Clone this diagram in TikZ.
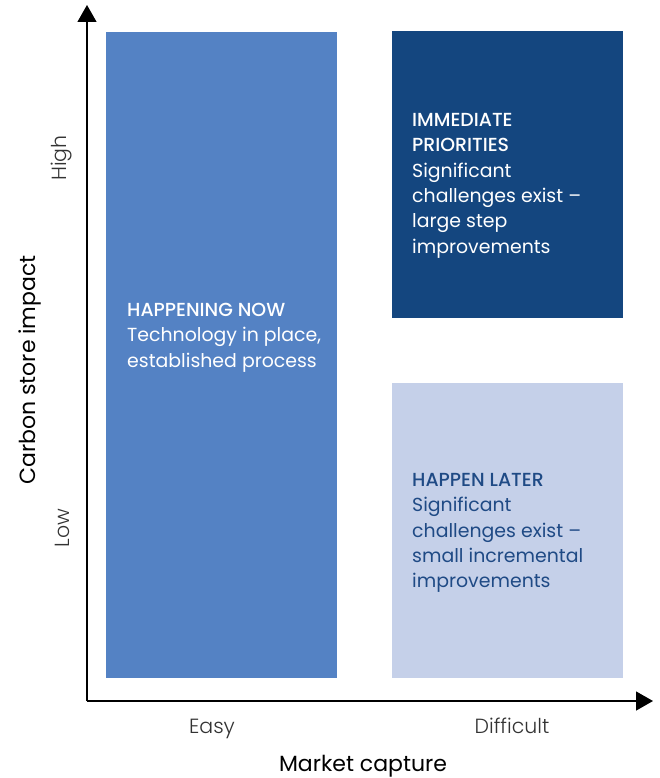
\documentclass[tikz,border=0pt]{standalone}
\usepackage{fontspec}
\setmainfont{Poppins}[BoldFont={Poppins Medium}]
\newfontfamily\lightfont{Poppins Light}
\usetikzlibrary{arrows.meta}
\definecolor{midblue}{HTML}{5482C4}
\definecolor{navy}{HTML}{14467F}
\definecolor{pale}{HTML}{C5D0E9}
\definecolor{darktext}{HTML}{1F4A85}
\definecolor{ticktext}{HTML}{333333}
\tikzset{
  quad/.style={draw=none, anchor=north west, minimum width=231pt, inner sep=0pt, outer sep=0pt},
  quadtext/.style={anchor=north west, inner sep=0pt, align=left, font=\fontsize{18.9}{25.4}\selectfont},
  axis/.style={line width=1.3pt, -{Triangle[length=17pt,width=19pt]}},
  tick/.style={font=\lightfont\fontsize{20.5}{22}\selectfont, text=ticktext, inner sep=0pt},
  title/.style={font=\fontsize{22}{24}\selectfont, text=black, inner sep=0pt}
}
\begin{document}
\begin{tikzpicture}[x=1pt,y=-1pt]
\useasboundingbox (0,0) rectangle (660,778);
% quadrants
\node[quad, fill=midblue, minimum height=646pt] (now) at (106,32) {};
\node[quad, fill=navy, minimum height=287pt] (imm) at (392,31) {};
\node[quad, fill=pale, minimum height=295pt] (later) at (392,383) {};
% texts
\node[quadtext, text=white] (nowtxt) at (127,303) {{\bfseries HAPPENING NOW}\\Technology in place,\\established process};
\node[quadtext, text=white] (immtxt) at (412,113) {{\bfseries IMMEDIATE}\\{\bfseries PRIORITIES}\\Significant\\challenges exist --\\large step\\improvements};
\node[quadtext, text=darktext] (latertxt) at (412,473) {{\bfseries HAPPEN LATER}\\Significant\\challenges exist --\\small incremental\\improvements};
% axes
\coordinate (O) at (87,701);
\coordinate (ytip) at (87,5);
\coordinate (xtip) at (653,701);
\draw[axis] (O) -- (ytip);
\draw[axis] (O) -- (xtip);
% axis labels
\node[tick, anchor=base] (easy) at (212,733) {Easy};
\node[tick, anchor=base] (diff) at (512,733) {Difficult};
\node[title, anchor=base] (xlab) at (363,771) {Market capture};
\node[tick, rotate=90] (high) at (62,158) {High};
\node[tick, rotate=90] (low) at (62,528) {Low};
\node[title, rotate=90] (ylab) at (30,370) {Carbon store impact};
\end{tikzpicture}
\end{document}
